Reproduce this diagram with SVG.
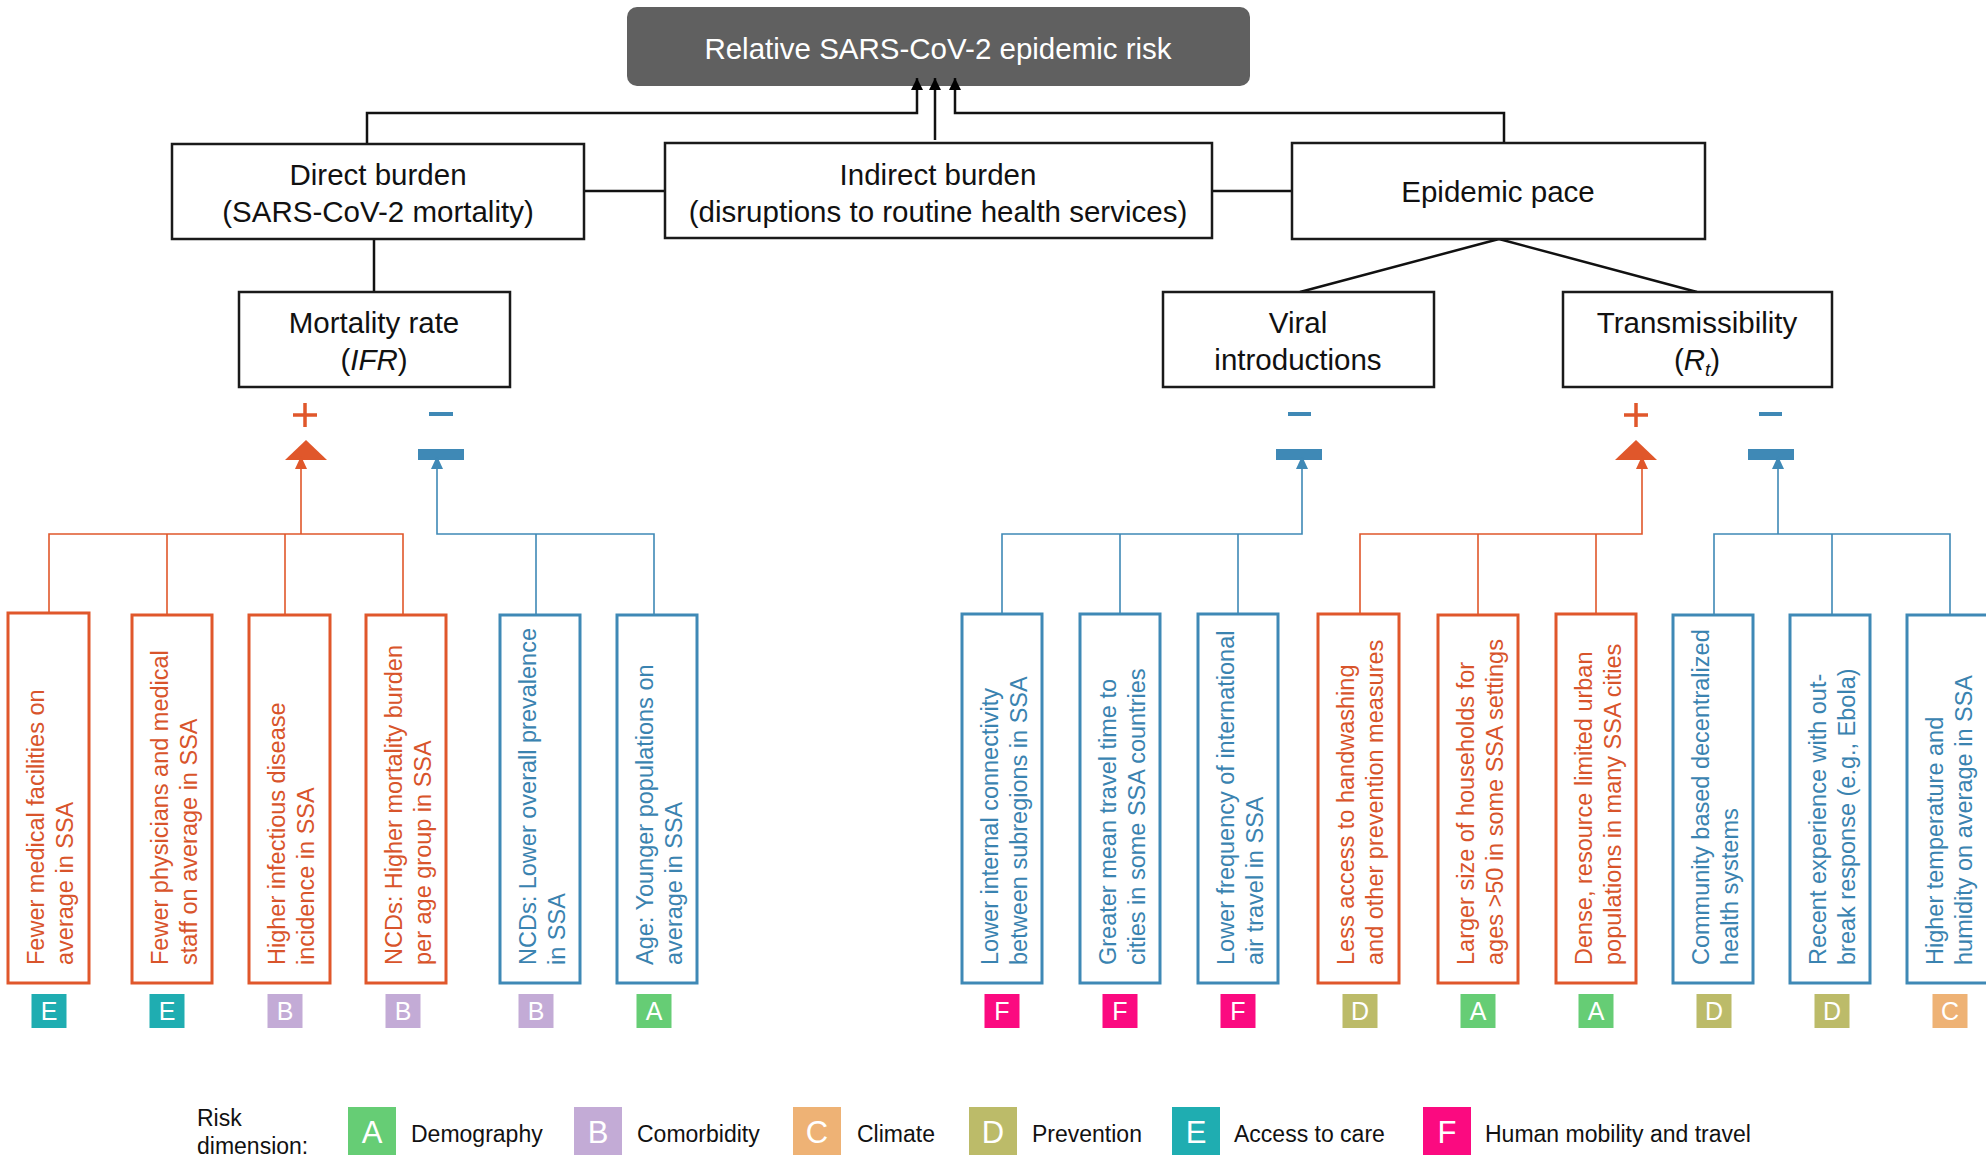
<svg xmlns="http://www.w3.org/2000/svg" width="1986" height="1160" viewBox="0 0 1986 1160">
<style>
text{font-family:"Liberation Sans",Arial,sans-serif}
.nb{fill:#fff;stroke:#1a1a1a;stroke-width:2.5}
.nl{font-size:29.5px;fill:#111;text-anchor:middle}
.k{fill:none;stroke:#111;stroke-width:2.5}
.o{stroke:#e0572b}
.b{stroke:#3f89b6}
.of{fill:#e0572b}
.bf{fill:#3f89b6}
.tl{fill:none;stroke-width:1.6}
.fo{fill:#fff;stroke:#e0572b;stroke-width:3}
.fb{fill:#fff;stroke:#3f89b6;stroke-width:3}
.to{font-size:23.5px;fill:#d8542b}
.tb{font-size:23.5px;fill:#3a83b0}
.bd{font-size:25px;fill:#fff;text-anchor:middle}
.lg{font-size:23px;fill:#111}
.lb{font-size:31px;fill:#fff;text-anchor:middle}
.A{fill:#66cd75}.B{fill:#c3abd6}.C{fill:#eeb275}.D{fill:#bcbb69}.E{fill:#1fadb1}.F{fill:#fb0a80}
</style>
<defs>
<marker id="ar" viewBox="0 0 12 12" refX="12" refY="6" markerWidth="12" markerHeight="12" markerUnits="userSpaceOnUse" orient="auto">
<path d="M0,0 L12,6 L0,12 z" fill="#000"/>
</marker>
</defs>

<g id="n-risk">
<rect x="627" y="7" width="623" height="79" rx="10" fill="#606060"/>
<text x="938" y="59" font-size="29.5" fill="#fff" text-anchor="middle">Relative SARS-CoV-2 epidemic risk</text>
</g>

<g id="connectors">
<path class="k" d="M367,143 V113 H917 V78" marker-end="url(#ar)"/>
<path class="k" d="M935,140 V78" marker-end="url(#ar)"/>
<path class="k" d="M1504,143 V113 H955 V78" marker-end="url(#ar)"/>
<path class="k" d="M584,191 H665 M1212,191 H1292 M374,239 V292 M1499,239 L1300,292 M1499,239 L1697,292"/>
<path class="tl o" d="M301,468 V534 M49,614 V534 H403 V614 M167,534 V614 M285,534 V614"/>
<path class="tl b" d="M437,468 V534 H654 V614 M536,534 V614"/>
<path class="tl b" d="M1302,468 V534 H1002 V614 M1120,534 V614 M1238,534 V614"/>
<path class="tl o" d="M1642,468 V534 H1360 V614 M1478,534 V614 M1596,534 V614"/>
<path class="tl b" d="M1778,468 V534 M1714,614 V534 H1950 V614 M1832,534 V614"/>
<polygon class="of" points="306,440 285,460 327,460"/>
<polygon class="of" points="301,456 295,469 307,469"/>
<rect class="bf" x="418" y="449" width="46" height="11"/>
<polygon class="bf" points="437,456 431,469 443,469"/>
<rect class="bf" x="1276" y="449" width="46" height="11"/>
<polygon class="bf" points="1302,456 1296,469 1308,469"/>
<polygon class="of" points="1636,440 1615,460 1657,460"/>
<polygon class="of" points="1642,456 1636,469 1648,469"/>
<rect class="bf" x="1748" y="449" width="46" height="11"/>
<polygon class="bf" points="1778,456 1772,469 1784,469"/>
<path d="M293,415 H317 M305,403 V427 M1624,415 H1648 M1636,403 V427" stroke="#e0572b" stroke-width="3.5" fill="none"/>
<path d="M429,414 H453 M1288,414 H1311 M1759,414 H1782" stroke="#3f89b6" stroke-width="4" fill="none"/>
</g>

<g id="n-direct">
<rect class="nb" x="172" y="144" width="412" height="95"/>
<text class="nl" x="378" y="185">Direct burden</text>
<text class="nl" x="378" y="222">(SARS-CoV-2 mortality)</text>
</g>
<g id="n-indirect">
<rect class="nb" x="665" y="143" width="547" height="95"/>
<text class="nl" x="938" y="185">Indirect burden</text>
<text class="nl" x="938" y="222">(disruptions to routine health services)</text>
</g>
<g id="n-pace">
<rect class="nb" x="1292" y="143" width="413" height="96"/>
<text class="nl" x="1498" y="202" font-size="30.5">Epidemic pace</text>
</g>
<g id="n-mortality">
<rect class="nb" x="239" y="292" width="271" height="95"/>
<text class="nl" x="374" y="333">Mortality rate</text>
<text class="nl" x="374" y="370">(<tspan font-style="italic">IFR</tspan>)</text>
</g>
<g id="n-viral">
<rect class="nb" x="1163" y="292" width="271" height="95"/>
<text class="nl" x="1298" y="333">Viral</text>
<text class="nl" x="1298" y="370">introductions</text>
</g>
<g id="n-trans">
<rect class="nb" x="1563" y="292" width="269" height="95"/>
<text class="nl" x="1697" y="333">Transmissibility</text>
<text class="nl" x="1697" y="370">(<tspan font-style="italic">R</tspan><tspan font-style="italic" font-size="19" dy="6">t</tspan><tspan dy="-6">)</tspan></text>
</g>

<g id="f1"><rect class="fo" x="8" y="613" width="81" height="370"/>
<text class="to" transform="translate(44,965) rotate(-90)"><tspan x="0" y="0">Fewer medical facilities on</tspan><tspan x="0" y="29">average in SSA</tspan></text>
<rect class="E" x="31.5" y="994" width="35" height="34"/><text class="bd" x="49" y="1020">E</text></g>

<g id="f2"><rect class="fo" x="132" y="615" width="80" height="368"/>
<text class="to" transform="translate(168,965) rotate(-90)"><tspan x="0" y="0">Fewer physicians and medical</tspan><tspan x="0" y="29">staff on average in SSA</tspan></text>
<rect class="E" x="149.5" y="994" width="35" height="34"/><text class="bd" x="167" y="1020">E</text></g>

<g id="f3"><rect class="fo" x="249" y="615" width="81" height="368"/>
<text class="to" transform="translate(285,965) rotate(-90)"><tspan x="0" y="0">Higher infectious disease</tspan><tspan x="0" y="29">incidence in SSA</tspan></text>
<rect class="B" x="267.5" y="994" width="35" height="34"/><text class="bd" x="285" y="1020">B</text></g>

<g id="f4"><rect class="fo" x="366" y="615" width="80" height="368"/>
<text class="to" transform="translate(402,965) rotate(-90)"><tspan x="0" y="0">NCDs: Higher mortality burden</tspan><tspan x="0" y="29">per age group in SSA</tspan></text>
<rect class="B" x="385.5" y="994" width="35" height="34"/><text class="bd" x="403" y="1020">B</text></g>

<g id="f5"><rect class="fb" x="500" y="615" width="80" height="368"/>
<text class="tb" transform="translate(536,965) rotate(-90)"><tspan x="0" y="0">NCDs: Lower overall prevalence</tspan><tspan x="0" y="29">in SSA</tspan></text>
<rect class="B" x="518.5" y="994" width="35" height="34"/><text class="bd" x="536" y="1020">B</text></g>

<g id="f6"><rect class="fb" x="617" y="615" width="80" height="368"/>
<text class="tb" transform="translate(653,965) rotate(-90)"><tspan x="0" y="0">Age: Younger populations on</tspan><tspan x="0" y="29">average in SSA</tspan></text>
<rect class="A" x="636.5" y="994" width="35" height="34"/><text class="bd" x="654" y="1020">A</text></g>

<g id="f7"><rect class="fb" x="962" y="614" width="80" height="369"/>
<text class="tb" transform="translate(998,965) rotate(-90)"><tspan x="0" y="0">Lower internal connectivity</tspan><tspan x="0" y="29">between subregions in SSA</tspan></text>
<rect class="F" x="984.5" y="994" width="35" height="34"/><text class="bd" x="1002" y="1020">F</text></g>

<g id="f8"><rect class="fb" x="1080" y="614" width="80" height="369"/>
<text class="tb" transform="translate(1116,965) rotate(-90)"><tspan x="0" y="0">Greater mean travel time to</tspan><tspan x="0" y="29">cities in some SSA countries</tspan></text>
<rect class="F" x="1102.5" y="994" width="35" height="34"/><text class="bd" x="1120" y="1020">F</text></g>

<g id="f9"><rect class="fb" x="1198" y="614" width="80" height="369"/>
<text class="tb" transform="translate(1234,965) rotate(-90)"><tspan x="0" y="0">Lower frequency of international</tspan><tspan x="0" y="29">air travel in SSA</tspan></text>
<rect class="F" x="1220.5" y="994" width="35" height="34"/><text class="bd" x="1238" y="1020">F</text></g>

<g id="f10"><rect class="fo" x="1318" y="614" width="81" height="369"/>
<text class="to" transform="translate(1354,965) rotate(-90)"><tspan x="0" y="0">Less access to handwashing</tspan><tspan x="0" y="29">and other prevention measures</tspan></text>
<rect class="D" x="1342.5" y="994" width="35" height="34"/><text class="bd" x="1360" y="1020">D</text></g>

<g id="f11"><rect class="fo" x="1438" y="615" width="80" height="368"/>
<text class="to" transform="translate(1474,965) rotate(-90)"><tspan x="0" y="0">Larger size of households for</tspan><tspan x="0" y="29">ages &gt;50 in some SSA settings</tspan></text>
<rect class="A" x="1460.5" y="994" width="35" height="34"/><text class="bd" x="1478" y="1020">A</text></g>

<g id="f12"><rect class="fo" x="1556" y="614" width="80" height="369"/>
<text class="to" transform="translate(1592,965) rotate(-90)"><tspan x="0" y="0">Dense, resource limited urban</tspan><tspan x="0" y="29">populations in many SSA cities</tspan></text>
<rect class="A" x="1578.5" y="994" width="35" height="34"/><text class="bd" x="1596" y="1020">A</text></g>

<g id="f13"><rect class="fb" x="1673" y="615" width="80" height="368"/>
<text class="tb" transform="translate(1709,965) rotate(-90)"><tspan x="0" y="0">Community based decentralized</tspan><tspan x="0" y="29">health systems</tspan></text>
<rect class="D" x="1696.5" y="994" width="35" height="34"/><text class="bd" x="1714" y="1020">D</text></g>

<g id="f14"><rect class="fb" x="1790" y="615" width="80" height="368"/>
<text class="tb" transform="translate(1826,965) rotate(-90)"><tspan x="0" y="0">Recent experience with out-</tspan><tspan x="0" y="29">break response (e.g., Ebola)</tspan></text>
<rect class="D" x="1814.5" y="994" width="35" height="34"/><text class="bd" x="1832" y="1020">D</text></g>

<g id="f15"><rect class="fb" x="1907" y="615" width="81" height="368"/>
<text class="tb" transform="translate(1943,965) rotate(-90)"><tspan x="0" y="0">Higher temperature and</tspan><tspan x="0" y="29">humidity on average in SSA</tspan></text>
<rect class="C" x="1932.5" y="994" width="35" height="34"/><text class="bd" x="1950" y="1020">C</text></g>

<g id="legend">
<text class="lg" x="197" y="1126">Risk</text>
<text class="lg" x="197" y="1154">dimension:</text>
<rect class="A" x="348" y="1107" width="48" height="48"/><text class="lb" x="372" y="1143">A</text>
<text class="lg" x="411" y="1142">Demography</text>
<rect class="B" x="574" y="1107" width="48" height="48"/><text class="lb" x="598" y="1143">B</text>
<text class="lg" x="637" y="1142">Comorbidity</text>
<rect class="C" x="793" y="1107" width="48" height="48"/><text class="lb" x="817" y="1143">C</text>
<text class="lg" x="857" y="1142">Climate</text>
<rect class="D" x="969" y="1107" width="48" height="48"/><text class="lb" x="993" y="1143">D</text>
<text class="lg" x="1032" y="1142">Prevention</text>
<rect class="E" x="1172" y="1107" width="48" height="48"/><text class="lb" x="1196" y="1143">E</text>
<text class="lg" x="1234" y="1142">Access to care</text>
<rect class="F" x="1423" y="1107" width="48" height="48"/><text class="lb" x="1447" y="1143">F</text>
<text class="lg" x="1485" y="1142">Human mobility and travel</text>
</g>
</svg>
